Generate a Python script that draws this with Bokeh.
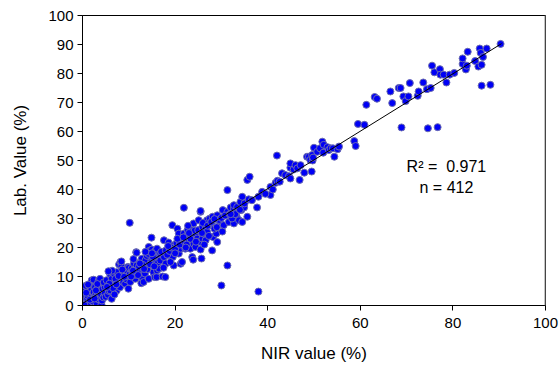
from bokeh.plotting import figure
from bokeh.models import Range1d, FixedTicker, Span, ColumnDataSource
from bokeh.core.properties import value
from bokeh.embed import file_html
from bokeh.resources import INLINE

# NIR value (%) vs Lab. value (%), grouped by zone
nir_a = [0.2,0.3,0.5,0.2,0.6,0.9,1.0,1.3,1.5,1.7,1.8,2.0,2.0,2.2,2.4,2.4,2.5,2.7,2.8,3.0,3.1,3.3,3.5,3.5,3.6,3.8,3.8,4.0,4.1,4.2,4.3,4.5,4.8,4.8,5.0,0.4,1.1,0.8,1.6,2.6,0.7,1.2,3.2,4.6,2.9]
lab_a = [0.5,1.7,2.8,3.5,5.2,1.1,2.5,4.0,0.8,5.8,3.2,2.3,8.7,1.4,4.6,8.9,6.5,6.3,3.5,1.0,2.9,5.5,4.8,8.7,2.0,6.9,9.2,3.8,0.3,1.7,5.8,2.8,6.3,4.2,3.0,0.2,3.3,4.4,2.0,2.4,6.8,7.2,7.4,8.0,5.2]

nir_b = [5.2,5.5,5.7,6.0,6.0,6.3,6.3,6.3,6.8,7.1,7.1,7.4,7.4,7.6,7.9,8.1,8.2,8.4,8.4,8.5,8.8,9.2,9.3,9.6,9.8,9.9,10.0,5.8,6.6,7.8,8.9,9.5,5.3,6.9,7.3,6.4,8.6,9.0,5.6]
lab_b = [8.7,3.7,5.0,5.2,10.6,2.3,7.3,9.2,11.0,8.1,9.2,5.2,11.5,6.8,14.1,6.3,15.0,13.5,15.2,9.8,8.0,7.5,10.4,10.6,13.3,5.8,13.0,7.5,6.0,10.2,11.8,9.0,6.4,3.8,7.3,12.0,12.4,9.9,11.8]

nir_c = [10.2,10.3,10.6,11.1,11.4,11.4,11.6,11.7,11.7,12.5,12.5,12.7,12.8,12.8,13.2,13.5,13.6,13.9,13.9,14.3,14.3,14.6,14.8,14.9,15.0,15.3,15.6,15.8,15.8,16.0,16.1,16.1,16.5,16.5,16.8,10.8,11.9,12.2,13.0,14.0,14.6,15.2,16.3,10.5,13.3,12.0,15.5,16.8,11.0,14.2,13.6,10.9,12.4,15.0]
lab_c = [28.5,8.1,12.7,14.4,9.2,10.6,18.4,13.8,18.2,12.1,15.0,7.7,9.8,16.1,8.1,11.0,15.6,13.3,17.1,9.2,20.2,19.0,15.0,23.4,19.3,11.5,9.8,15.9,19.0,9.8,12.1,19.6,12.7,16.7,17.9,11.2,11.6,13.4,14.0,12.5,14.2,16.8,14.8,10.0,12.6,10.5,13.5,15.5,16.0,17.8,18.5,12.0,14.5,18.0]

nir_d = [17.3,17.6,17.6,17.9,18.6,19.0,19.4,19.5,19.7,19.7,20.5,20.8,20.8,21.2,21.2,21.5,21.5,21.9,21.9,22.2,22.6,22.7,23.0,23.3,23.7,23.7,23.7,23.9,24.0,24.0,24.4,24.4,24.8,25.1,25.5,25.5,25.5,25.7,17.0,18.0,18.3,18.8,19.2,20.0,20.3,21.0,22.0,22.5,23.3,24.2,18.0,17.5,19.0,20.5,21.8,22.8,23.0,24.5,25.0,20.0,18.5,22.3]
lab_d = [10.0,16.7,22.5,9.8,21.7,17.3,27.7,16.7,13.8,20.8,26.5,17.9,24.8,14.4,19.6,15.0,22.5,24.8,33.7,19.6,24.2,26.0,21.9,19.6,16.7,23.6,26.0,15.8,21.3,28.3,20.2,24.8,23.1,29.4,19.3,21.9,32.3,16.2,18.5,19.0,17.5,18.8,20.0,19.5,21.5,21.0,22.2,21.0,23.0,25.8,14.5,13.0,15.0,23.0,23.5,27.5,25.0,22.0,26.0,18.0,20.5,20.0]

nir_e = [25.5,25.9,25.9,26.1,26.6,26.6,26.9,26.9,27.5,28.0,28.0,28.1,28.2,28.9,29.1,29.1,29.8,30.0,30.3,30.5,31.3,31.3,31.3,31.6,32.0,32.7,32.7,32.7,33.3,33.4,33.4,33.8,34.1,34.3,34.5,34.5,34.9,35.0,35.6,26.0,27.0,27.8,28.5,29.5,30.0,30.8,31.8,32.3,29.0,27.3,26.3,25.8,28.5,30.2,33.0,34.0,32.0]
lab_e = [32.6,23.1,27.1,24.8,22.5,26.5,25.4,29.4,30.0,19.0,27.7,30.6,23.6,24.8,21.9,31.1,28.3,6.9,32.9,27.7,13.8,32.3,39.8,28.8,33.8,28.3,33.4,34.6,30.6,32.9,34.0,29.4,35.7,32.9,28.8,37.5,33.8,35.2,30.6,28.5,27.5,28.8,26.5,29.5,30.2,31.0,31.5,30.0,27.0,24.0,21.0,25.0,29.8,25.5,31.5,33.0,31.5]

nir_f = [35.6,35.9,36.1,36.6,37.7,38.0,38.8,40.6,40.6,41.1,41.7,42.0,42.1,42.6,43.1,43.8,44.6,44.9,44.9,44.9,45.6,46.0,46.4,46.9,47.1,47.9,48.5,48.9,49.2,49.5,49.6,49.7,49.8,39.5,38.0]
lab_f = [43.3,36.6,44.4,36.3,33.8,4.8,39.2,38.1,40.9,40.0,42.3,51.7,43.0,42.7,45.6,45.0,44.6,43.8,47.5,49.0,46.9,48.4,47.3,43.3,48.4,45.8,51.3,51.3,50.2,46.2,51.9,50.0,51.0,38.5,37.5]

nir_g = [50.0,50.7,51.3,51.8,52.0,52.1,52.9,53.2,53.6,54.1,54.4,55.1,55.4,58.7,59.0,59.5,60.9]
lab_g = [54.4,53.0,54.2,56.5,52.7,55.4,54.6,53.6,54.2,54.2,51.3,53.9,54.8,56.7,55.0,62.6,62.3]

nir_h = [61.3,63.1,63.6,66.5,66.9,68.3,68.7,68.9,69.3,69.8,70.4,70.7,72.4,72.6,73.6,74.4,74.6,75.2,75.5,76.0,76.7,77.2,77.3,78.0,78.6,79.3,80.3,82.1,82.1,82.8,83.0,83.2,84.8,85.5,85.8,86.0,86.2,86.2,86.5,87.3,88.1,90.3]
lab_h = [69.2,71.9,71.3,73.8,69.8,75.0,75.0,61.4,72.1,70.5,72.1,76.7,72.3,73.8,76.9,74.6,61.1,75.0,82.7,80.4,61.5,81.5,79.6,79.6,76.9,79.6,80.2,83.3,85.2,81.4,82.7,87.5,84.3,82.4,88.6,87.1,75.8,83.0,85.7,88.6,76.1,90.2]

nir = nir_a + nir_b + nir_c + nir_d + nir_e + nir_f + nir_g + nir_h
lab = lab_a + lab_b + lab_c + lab_d + lab_e + lab_f + lab_g + lab_h

# fitted line
fit_slope = 0.99
fit_intercept = 0.7
fit_x = [0.0, 90.5]
fit_y = [fit_slope * v + fit_intercept for v in fit_x]

x_ticks = [0, 20, 40, 60, 80, 100]
y_ticks = [0, 10, 20, 30, 40, 50, 60, 70, 80, 90, 100]
stats_text = ["R\u00b2 =\u00a0\u00a00.971", "n = 412"]

FONT = "Liberation Sans"

p = figure(frame_width=463, frame_height=290,
           x_range=Range1d(0, 100), y_range=Range1d(0, 100),
           output_backend="svg", toolbar_location=None,
           min_border_left=82, min_border_right=15,
           min_border_top=15, min_border_bottom=61)
p.background_fill_color = "white"
p.border_fill_color = "white"
p.outline_line_color = "black"
p.outline_line_width = 1
p.xgrid.visible = False
p.ygrid.visible = False

for ax, ticks in ((p.xaxis[0], x_ticks), (p.yaxis[0], y_ticks)):
    ax.ticker = FixedTicker(ticks=ticks)
    ax.major_tick_out = 5
    ax.major_tick_in = 0
    ax.minor_tick_line_color = None
    ax.axis_line_color = "black"
    ax.major_tick_line_color = "black"
    ax.major_label_text_font = FONT
    ax.major_label_text_font_size = "15px"
    ax.major_label_text_color = "black"
    ax.axis_label_text_font = FONT
    ax.axis_label_text_font_size = "17px"
    ax.axis_label_text_font_style = "normal"
    ax.axis_label_text_color = "black"

p.xaxis.axis_label = "NIR value (%)"
p.yaxis.axis_label = "Lab. Value (%)"
p.xaxis.major_label_standoff = 7
p.xaxis.axis_label_standoff = 13
p.yaxis.major_label_standoff = 4
p.yaxis.axis_label_standoff = 15

p.add_layout(Span(location=100, dimension="height", line_color="#8a8a8a", line_width=2))

src = ColumnDataSource(data=dict(x=nir, y=lab))
p.scatter("x", "y", source=src, size=7, fill_color="#0000f5",
          line_color="#6a6ab0", line_width=1)

p.line(fit_x, fit_y, line_color="black", line_width=1)

p.text(x=[78.6, 78.6], y=[47.9, 40.7], text=stats_text,
       text_font=value(FONT), text_font_size="16px", text_color="black",
       text_align="center", text_baseline="middle")

open("out.html", "w").write(file_html(p, INLINE))
